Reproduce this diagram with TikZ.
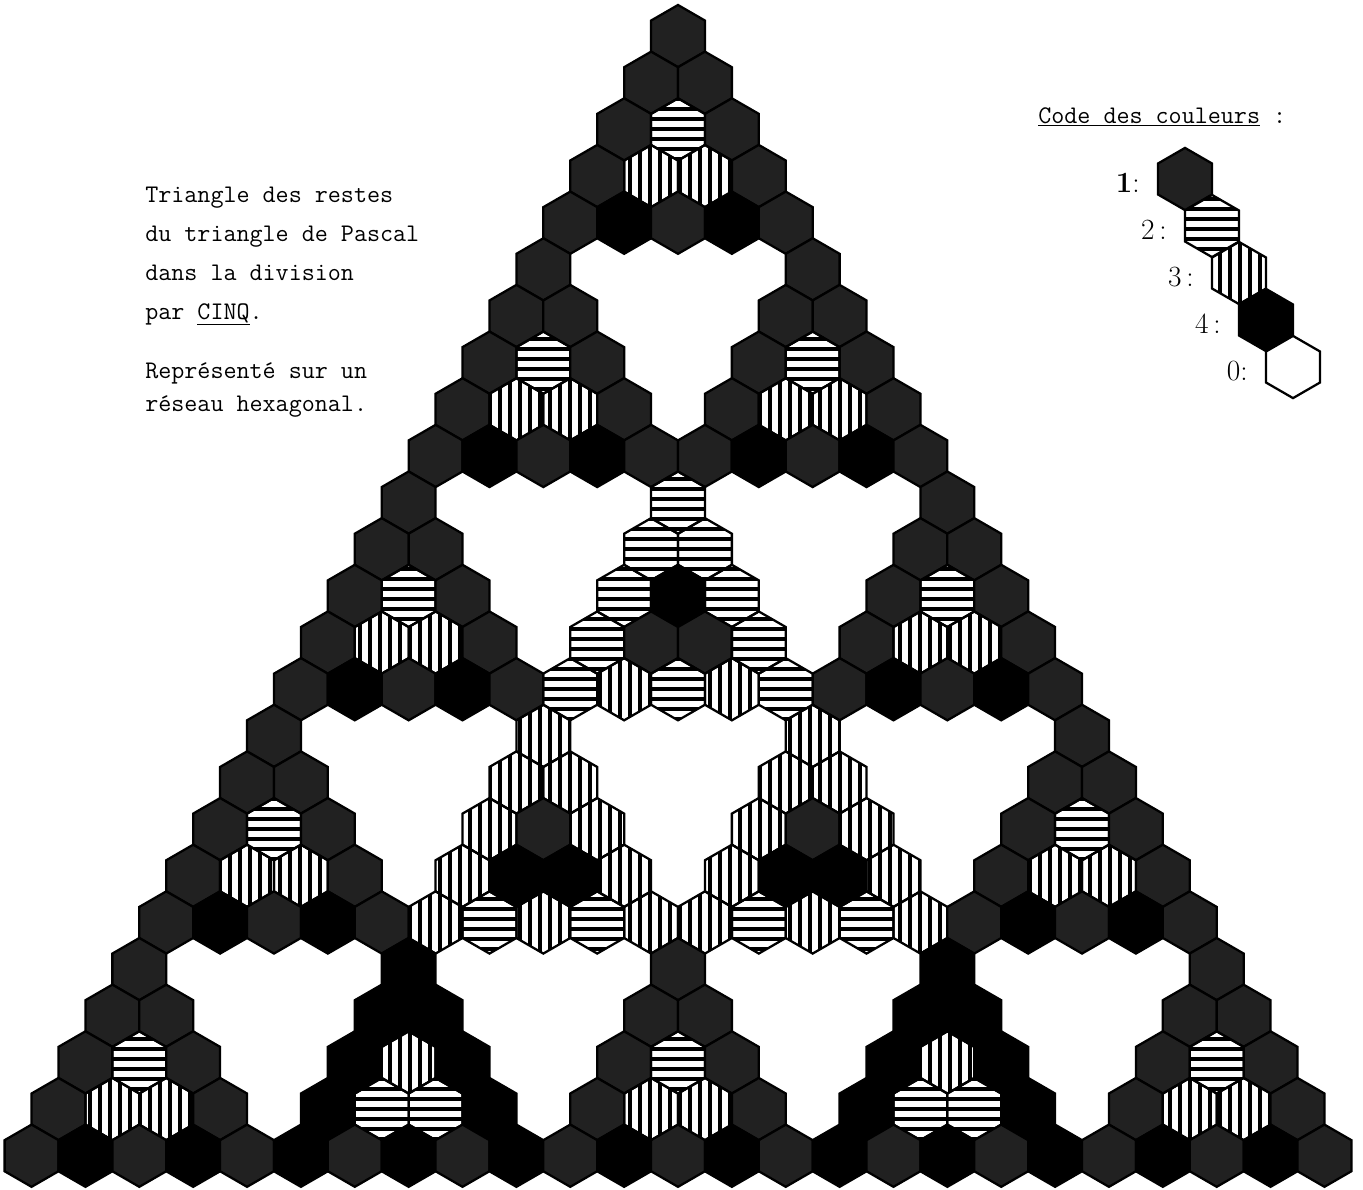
\documentclass[tikz,border=0pt]{standalone}
\usepackage{fontspec}
\usetikzlibrary{patterns.meta}

\tikzset{
  case/.style={draw=black, line width=1.7pt},
  reste1/.style={case, fill=black!87},
  reste2/.style={case, pattern={Lines[angle=0,distance=7.5pt,line width=2.4pt]}},
  reste3/.style={case, pattern={Lines[angle=90,distance=7.5pt,line width=2.4pt]}},
  reste4/.style={case, fill=black},
  reste0/.style={case, fill=white},
  texte/.style={anchor=base west, inner sep=0pt, font=\fontsize{19}{22}\ttfamily},
  chiffre/.style={anchor=base east, inner sep=0pt, font=\fontsize{22}{24}\selectfont},
}

% un hexagone : centre x, centre y, style
\newcommand{\hexa}[3]{%
  \draw[#3, shift={(#1,#2)}] (30:31.1) -- (90:31.1) -- (150:31.1) -- (210:31.1)
    -- (270:31.1) -- (330:31.1) -- cycle;}

\begin{document}
\begin{tikzpicture}[x=0.75pt, y=-0.75pt]
    \useasboundingbox (0,0) rectangle (1363,1189);

    % Triangle de Pascal modulo 5 (theoreme de Lucas)
    \foreach \n in {0,...,24}{
      \foreach \k in {0,...,\n}{
        \pgfmathtruncatemacro\na{int(\n/5)}
        \pgfmathtruncatemacro\nb{mod(\n,5)}
        \pgfmathtruncatemacro\ka{int(\k/5)}
        \pgfmathtruncatemacro\kb{mod(\k,5)}
        \pgfmathtruncatemacro\ca{\ka>\na ? 0 : round(factorial(\na)/(factorial(\ka)*factorial(max(\na-\ka,0))))}
        \pgfmathtruncatemacro\cb{\kb>\nb ? 0 : round(factorial(\nb)/(factorial(\kb)*factorial(max(\nb-\kb,0))))}
        \pgfmathtruncatemacro\v{mod(\ca*\cb,5)}
        \pgfmathsetmacro\px{678+(\k-\n/2)*53.87}
        \pgfmathsetmacro\py{36.1+46.65*\n}
        \ifnum\v>0 \hexa{\px}{\py}{reste\v}\fi
      }
    }

    % Texte de gauche
    \node[texte] (ligne1) at (145,202) {Triangle des restes};
    \node[texte] (ligne2) at (145,241) {du triangle de Pascal};
    \node[texte] (ligne3) at (145,280) {dans la division};
    \node[texte] (ligne4) at (145,319) {par \underline{CINQ}.};
    \node[texte] (ligne5) at (145,378) {Représenté sur un};
    \node[texte] (ligne6) at (145,411) {réseau hexagonal.};

    % Code des couleurs
    \node[texte] (code) at (1038,123) {\underline{Code des couleurs} :};
    \hexa{1185}{179}{reste1}
    \hexa{1212}{226}{reste2}
    \hexa{1239}{273}{reste3}
    \hexa{1266}{320}{reste4}
    \hexa{1293}{367}{reste0}
    \node[chiffre] (c1) at (1140,192) {\textbf{1}:};
    \node[chiffre] (c2) at (1167,239) {2\,:};
    \node[chiffre] (c3) at (1194,286) {3\,:};
    \node[chiffre] (c4) at (1221,333) {4\,:};
    \node[chiffre] (c0) at (1248,380) {0:};
\end{tikzpicture}
\end{document}
